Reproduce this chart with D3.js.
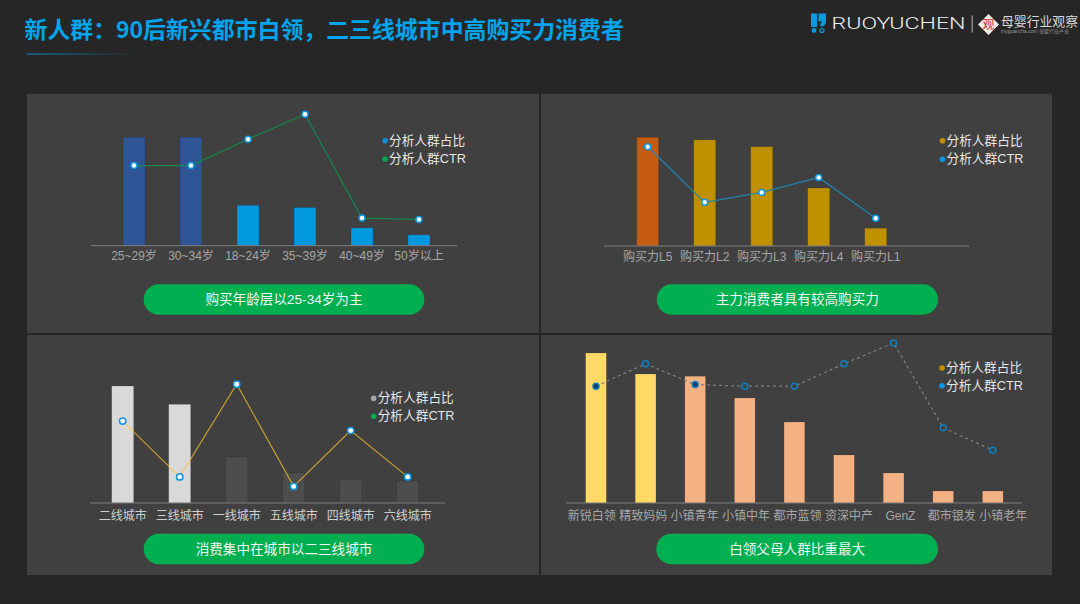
<!DOCTYPE html>
<html>
<head>
<meta charset="utf-8">
<script src="https://cdn.jsdelivr.net/npm/d3@7"></script>
<style>
html, body { margin: 0; padding: 0; background: #262626; }
svg { display: block; }
text { font-family: "Liberation Sans", "Noto Sans CJK SC", sans-serif; }
</style>
</head>
<body>
<svg id="chart" width="1080" height="604"></svg>
<script>
const ageCategories = ['25~29岁', '30~34岁', '18~24岁', '35~39岁', '40~49岁', '50岁以上'];
const ageShare = [25, 25, 9.3, 8.8, 4.1, 2.5];
const ageCtr = [61, 61, 81, 100, 21, 20];

const powerCategories = ['购买力L5', '购买力L2', '购买力L3', '购买力L4', '购买力L1'];
const powerShare = [30, 29.3, 27.4, 16, 4.9];
const powerCtr = [100, 44, 54, 69, 28];

const cityCategories = ['二线城市', '三线城市', '一线城市', '五线城市', '四线城市', '六线城市'];
const cityShare = [30, 25.3, 11.8, 7.7, 5.9, 5.6];
const cityCtr = [69, 22, 100, 14, 61, 22];

const crowdCategories = ['新锐白领', '精致妈妈', '小镇青年', '小镇中年', '都市蓝领', '资深中产', 'GenZ', '都市银发', '小镇老年'];
const crowdShare = [20, 17.2, 16.9, 14, 10.8, 6.4, 4, 1.6, 1.6];
const crowdCtr = [73, 87, 74, 73, 73, 87, 100, 47, 33];

const titleText = '新人群：90后新兴都市白领，二三线城市中高购买力消费者';
const shareLabel = '分析人群占比';
const ctrLabel = '分析人群CTR';

const svg = d3.select('#chart');

// background panels
[[27, 94, 512, 239], [541, 94, 511, 239], [27, 335, 512, 240], [541, 335, 511, 240]].forEach(p => {
    svg.append('rect').attr('x', p[0]).attr('y', p[1]).attr('width', p[2]).attr('height', p[3]).attr('fill', '#404040');
});

// header
svg.append('text').text(titleText)
    .attr('x', 24.5).attr('y', 38)
    .style('font-family', '"Noto Sans CJK SC"')
    .style('font-size', '22.9px').style('font-weight', 700)
    .attr('fill', '#00a5ec');

const grad = svg.append('defs').append('linearGradient').attr('id', 'underline');
grad.append('stop').attr('offset', '0%').attr('stop-color', '#0b86b8');
grad.append('stop').attr('offset', '100%').attr('stop-color', '#0b86b8').attr('stop-opacity', 0);
svg.append('rect').attr('x', 27).attr('y', 53.5).attr('width', 110).attr('height', 1.2).attr('fill', 'url(#underline)');

function drawLogo() {
    const g = svg.append('g');
    g.append('path').attr('d', 'M811 13.5H817V27H811Z M818.5 13.5H826V21.5C826 24.5 823.5 26.5 820.5 26.5V23C821.5 23 822 22.5 822 21.5H818.5Z').attr('fill', '#0a9be0');
    g.append('circle').attr('cx', 814).attr('cy', 30.5).attr('r', 2.4).attr('fill', '#0a9be0');
    g.append('circle').attr('cx', 822).attr('cy', 30.5).attr('r', 2).attr('fill', 'none').attr('stroke', '#0a9be0').attr('stroke-width', 1.2);
    g.append('text').text('RUOYUCHEN')
        .attr('x', 831.5).attr('y', 28.5)
        .attr('textLength', 134).attr('lengthAdjust', 'spacingAndGlyphs')
        .style('font-family', 'Roboto').style('font-weight', 300).style('font-size', '16px')
        .attr('fill', '#eeeeee');
    g.append('rect').attr('x', 971.7).attr('y', 15.5).attr('width', 0.9).attr('height', 17).attr('fill', '#cccccc');
    g.append('path').attr('d', 'M988.5 14L999 24.5L988.5 35L978 24.5Z').attr('fill', '#f3e9e4');
    g.append('text').text('观')
        .attr('x', 988.5).attr('y', 29).attr('text-anchor', 'middle')
        .style('font-size', '12px').attr('fill', '#c8313a');
    g.append('text').text('母婴行业观察')
        .attr('x', 1001).attr('y', 25.5)
        .attr('textLength', 77).attr('lengthAdjust', 'spacingAndGlyphs')
        .style('font-size', '13px').attr('fill', '#d9d9d9');
    g.append('text').text('myguancha.com 母婴行业产业')
        .attr('x', 1001).attr('y', 32.5)
        .attr('textLength', 68).attr('lengthAdjust', 'spacingAndGlyphs')
        .style('font-size', '5px').attr('fill', '#999999');
}
drawLogo();

function drawPanel(c) {
    const g = svg.append('g');
    const x = d3.scaleBand().domain(c.categories).range(c.barRange)
        .paddingInner(c.padding).paddingOuter(c.padding / 2);
    const labelX = d3.scaleBand().domain(c.categories).range(c.labelRange || c.barRange);
    const yShare = d3.scaleLinear().domain([0, d3.max(c.share)]).range([c.base, c.shareTop]);
    const yCtr = d3.scaleLinear().domain([0, 100]).range([c.base, c.ctrTop]);

    g.selectAll('rect.bar').data(c.categories).join('rect')
        .attr('class', 'bar')
        .attr('x', d => x(d))
        .attr('width', x.bandwidth())
        .attr('y', (d, i) => yShare(c.share[i]))
        .attr('height', (d, i) => c.base - yShare(c.share[i]))
        .attr('fill', (d, i) => i < c.highlight ? c.barHigh : c.barColor)
        .attr('stroke', 'rgba(0,0,0,0.12)')
        .attr('stroke-width', 0.8);

    g.append('line')
        .attr('x1', c.axisX[0]).attr('x2', c.axisX[1])
        .attr('y1', c.base).attr('y2', c.base)
        .attr('stroke', '#7f7f7f').attr('stroke-width', 1);

    const axis = g.append('g')
        .attr('transform', `translate(0,${c.base})`)
        .call(d3.axisBottom(labelX).tickSize(0).tickPadding(c.tickPad));
    axis.select('.domain').remove();
    axis.selectAll('text')
        .style('font-size', '12px')
        .attr('fill', c.labelColor);

    const line = d3.line()
        .x((d, i) => x(c.categories[i]) + x.bandwidth() / 2)
        .y(d => yCtr(d));
    g.append('path').datum(c.ctr)
        .attr('d', line)
        .attr('fill', 'none')
        .attr('stroke', c.lineColor)
        .attr('stroke-width', 1.2)
        .attr('stroke-dasharray', c.dash || null);

    g.selectAll('circle.pt').data(c.ctr).join('circle')
        .attr('class', 'pt')
        .attr('cx', (d, i) => x(c.categories[i]) + x.bandwidth() / 2)
        .attr('cy', d => yCtr(d))
        .attr('r', c.pointR)
        .attr('fill', (d, i) => c.pointFill(i))
        .attr('stroke', c.pointStroke)
        .attr('stroke-width', 1.5);

    // legend
    [[shareLabel, c.legendColors[0]], [ctrLabel, c.legendColors[1]]].forEach((l, i) => {
        const ly = c.legendY[i];
        g.append('circle').attr('cx', c.legendX - 4).attr('cy', ly).attr('r', 2.8).attr('fill', l[1]);
        g.append('text').text(l[0])
            .attr('x', c.legendX).attr('y', ly + 4)
            .style('font-size', '12.7px').attr('fill', '#e6e6e6');
    });

    // conclusion pill
    const [px0, px1] = c.pillX;
    g.append('rect')
        .attr('x', px0).attr('y', c.pillY)
        .attr('width', px1 - px0).attr('height', 30.5)
        .attr('rx', 15.25)
        .attr('fill', '#00b050');
    g.append('text').text(c.pill)
        .attr('x', (px0 + px1) / 2).attr('y', c.pillY + 20)
        .attr('text-anchor', 'middle')
        .style('font-size', '13.6px').attr('fill', '#f2f2f2');
}

drawPanel({
    categories: ageCategories, share: ageShare, ctr: ageCtr,
    barRange: [105.5, 447.5], padding: 0.615, base: 245.7, shareTop: 137.3, ctrTop: 114.3,
    axisX: [91, 457], tickPad: 6, highlight: 2, barHigh: '#2f5597', barColor: '#0098de',
    labelColor: '#a6a6a6', lineColor: '#13884b', pointR: 3, pointStroke: '#0a96e0', pointFill: () => '#ffffff',
    legendX: 389, legendY: [140.7, 159], legendColors: ['#0a8fd8', '#00a650'],
    pillX: [143.7, 424.3], pillY: 284.3, pill: '购买年龄层以25-34岁为主'
});

drawPanel({
    categories: powerCategories, share: powerShare, ctr: powerCtr,
    barRange: [619.2, 904.2], padding: 0.615, base: 246, shareTop: 137.3, ctrTop: 146.7,
    axisX: [604, 969], tickPad: 6, highlight: 1, barHigh: '#c55a11', barColor: '#bf9000',
    labelColor: '#a6a6a6', lineColor: '#1b87b0', pointR: 3, pointStroke: '#0a96e0', pointFill: () => '#ffffff',
    legendX: 946.5, legendY: [140.7, 159.3], legendColors: ['#bf9000', '#0a96e0'],
    pillX: [656.7, 938], pillY: 284.3, pill: '主力消费者具有较高购买力'
});

drawPanel({
    categories: cityCategories, share: cityShare, ctr: cityCtr,
    barRange: [94.2, 436.2], padding: 0.615, base: 503, shareTop: 386, ctrTop: 384.3,
    axisX: [90, 445], tickPad: 8, highlight: 2, barHigh: '#d9d9d9', barColor: '#4d4d4d',
    labelColor: '#d0d0d0', lineColor: 'rgba(255,200,40,0.7)', pointR: 3.2, pointStroke: '#0a96e0', pointFill: () => '#ffffff',
    legendX: 377.7, legendY: [398.3, 416.3], legendColors: ['#a6a6a6', '#00b050'],
    pillX: [143.7, 424.3], pillY: 533.7, pill: '消费集中在城市以二三线城市'
});

drawPanel({
    categories: crowdCategories, share: crowdShare, ctr: crowdCtr,
    barRange: [571.2, 1017.6], padding: 0.583, base: 503, shareTop: 353, ctrTop: 343,
    labelRange: [566, 1029], axisX: [566, 1022], tickPad: 8, highlight: 2, barHigh: '#ffd966', barColor: '#f4b183',
    labelColor: '#a6a6a6', lineColor: '#808080', dash: '3,3', pointR: 3, pointStroke: '#0f7fc0',
    pointFill: i => (i === 0 || i === 2) ? '#0b3c66' : '#404040',
    legendX: 946, legendY: [368, 385.7], legendColors: ['#bf9000', '#0a96e0'],
    pillX: [656.3, 938], pillY: 533.7, pill: '白领父母人群比重最大'
});
</script>
</body>
</html>
